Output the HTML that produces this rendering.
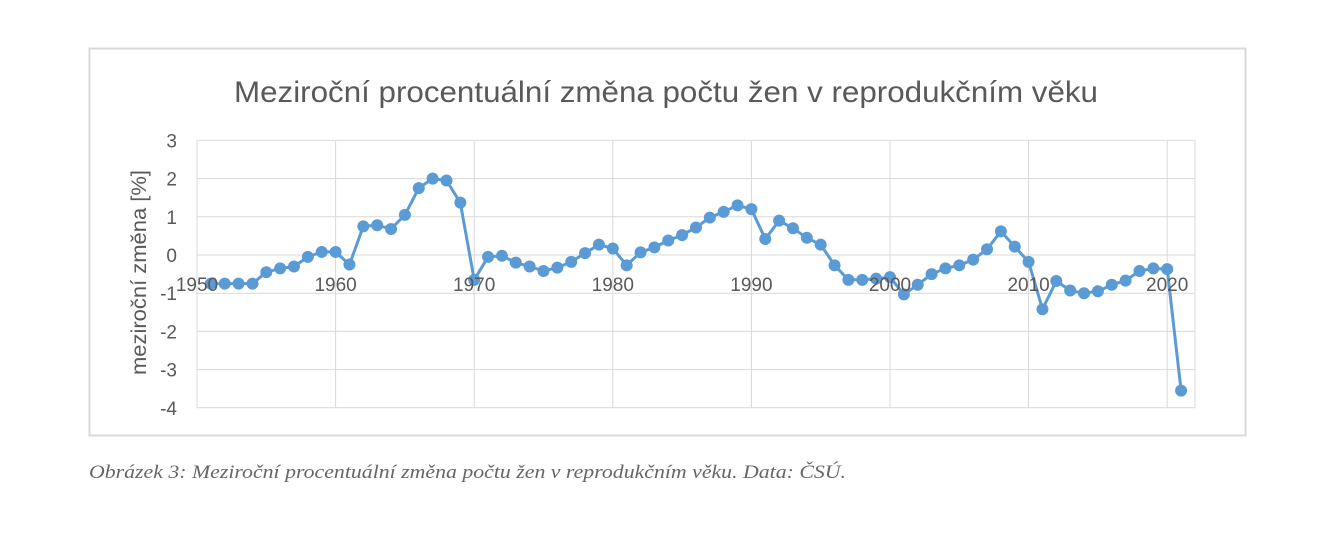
<!DOCTYPE html>
<html><head><meta charset="utf-8"><style>
body{margin:0;background:#fff;width:1338px;height:555px;overflow:hidden}
</style></head><body>
<svg width="1338" height="555" xmlns="http://www.w3.org/2000/svg" font-family="Liberation Sans, sans-serif">
<rect x="89.5" y="48.5" width="1156" height="387" fill="#fff" stroke="#d9d9d9" stroke-width="2"/>
<text x="234" y="102" font-size="30" fill="#595959" textLength="864" lengthAdjust="spacingAndGlyphs">Meziroční procentuální změna počtu žen v reprodukčním věku</text>
<g stroke="#d9d9d9" stroke-width="1" id="grid"></g>
<g id="ylab" font-size="19" fill="#595959" text-anchor="end"></g>
<text transform="translate(146,375) rotate(-90)" font-size="21" fill="#595959" textLength="205" lengthAdjust="spacingAndGlyphs">meziroční změna [%]</text>
<g id="series"></g>
<g id="xlab" font-size="19" fill="#595959" text-anchor="middle"></g>
<text x="89" y="478" font-family="Liberation Serif, serif" font-style="italic" font-size="19" fill="#666" textLength="757" lengthAdjust="spacingAndGlyphs">Obrázek 3: Meziroční procentuální změna počtu žen v reprodukčním věku. Data: ČSÚ.</text>
</svg>
<script>
var ns="http://www.w3.org/2000/svg";
function el(p,t,a,txt){var e=document.createElementNS(ns,t);for(var k in a)e.setAttribute(k,a[k]);if(txt!==undefined)e.textContent=txt;document.getElementById(p).appendChild(e);return e;}
var x0=197,x1=1195,dx=13.86,y0=255,u=38.2;
function X(y){return x0+(y-1950)*dx}function Y(v){return y0-v*u}
for(var v=-4;v<=3;v++){el("grid","line",{x1:x0,x2:x1,y1:Y(v),y2:Y(v)});el("ylab","text",{x:177,y:Y(v)+7},String(v));}
for(var yr=1950;yr<=2020;yr+=10){el("grid","line",{x1:X(yr),x2:X(yr),y1:Y(3),y2:Y(-4)});el("xlab","text",{x:X(yr),y:291},String(yr));}
el("grid","line",{x1:x1,x2:x1,y1:Y(3),y2:Y(-4)});
var d=[-0.75,-0.75,-0.75,-0.75,-0.45,-0.35,-0.3,-0.05,0.08,0.08,-0.25,0.75,0.78,0.68,1.05,1.75,2.0,1.95,1.37,-0.65,-0.05,-0.02,-0.2,-0.3,-0.42,-0.33,-0.18,0.05,0.27,0.17,-0.27,0.07,0.2,0.38,0.52,0.72,0.98,1.13,1.3,1.2,0.42,0.9,0.7,0.45,0.27,-0.27,-0.65,-0.65,-0.62,-0.58,-1.03,-0.78,-0.5,-0.35,-0.27,-0.12,0.15,0.62,0.22,-0.18,-1.42,-0.68,-0.93,-1.0,-0.95,-0.78,-0.67,-0.42,-0.35,-0.37,-3.55];
var pts=d.map(function(v,i){return X(1951+i).toFixed(1)+","+Y(v).toFixed(1)}).join(" ");
el("series","polyline",{points:pts,fill:"none",stroke:"#5b9bd5","stroke-width":3,"stroke-linejoin":"round"});
d.forEach(function(v,i){el("series","circle",{cx:X(1951+i),cy:Y(v),r:6,fill:"#5b9bd5"});});
</script>
</body></html>
